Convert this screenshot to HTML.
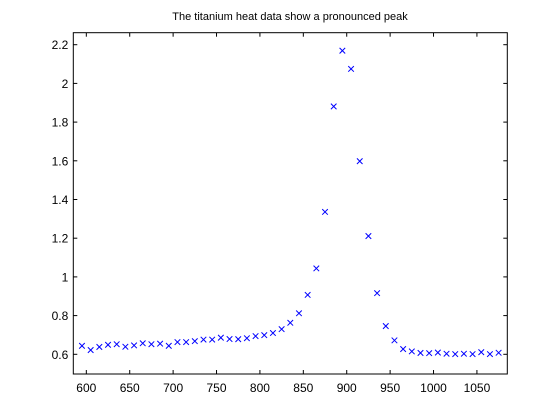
<!DOCTYPE html>
<html><head><meta charset="utf-8"><style>
html,body{margin:0;padding:0;background:#fff;}
svg{display:block;font-family:"Liberation Sans",Arial,sans-serif;}
</style></head><body>
<svg id="chart" width="560" height="420" viewBox="0 0 560 420" xmlns="http://www.w3.org/2000/svg">
<rect x="0" y="0" width="560" height="420" fill="#fff"/>
<text x="290" y="20" font-size="11" text-anchor="middle" fill="#000">The titanium heat data show a pronounced peak</text>
<g id="ticks"></g>
<g id="marks"></g>
<rect x="73.3" y="32.7" width="434" height="341.3" fill="none" stroke="#000" stroke-width="1"/>
</svg>
<script>
const temperatures = [595,605,615,625,635,645,655,665,675,685,695,705,715,725,735,745,755,765,775,785,795,805,815,825,835,845,855,865,875,885,895,905,915,925,935,945,955,965,975,985,995,1005,1015,1025,1035,1045,1055,1065,1075];
const heatValues = [0.644,0.622,0.638,0.649,0.652,0.639,0.646,0.657,0.652,0.655,0.644,0.663,0.663,0.668,0.676,0.676,0.686,0.679,0.678,0.683,0.694,0.699,0.710,0.730,0.763,0.812,0.907,1.044,1.336,1.881,2.169,2.075,1.598,1.211,0.916,0.746,0.672,0.627,0.615,0.607,0.606,0.609,0.603,0.601,0.603,0.601,0.611,0.601,0.608];
const xTicks = [600,650,700,750,800,850,900,950,1000,1050];
const yTicks = [0.6,0.8,1,1.2,1.4,1.6,1.8,2,2.2];
const yTickLabels = ["0.6","0.8","1","1.2","1.4","1.6","1.8","2","2.2"];

const L=73.3,R=507.3,T=32.7,B=374;
const xMin=585,xMax=1085;
function xs(v){return L+(v-xMin)/(xMax-xMin)*(R-L);}
function ys(v){return 354.3-(v-0.6)*193.5;}
const NS="http://www.w3.org/2000/svg";
const tg=document.getElementById('ticks'), mg=document.getElementById('marks');
function mk(tag,attrs,parent){const e=document.createElementNS(NS,tag);for(const k in attrs)e.setAttribute(k,attrs[k]);parent.appendChild(e);return e;}
xTicks.forEach(t=>{
  const x=xs(t);
  const l1=mk('line',{x1:x,x2:x,y1:B,y2:B-4,stroke:'#000'},tg);
  
  
  const l2=mk('line',{x1:x,x2:x,y1:T,y2:T+4,stroke:'#000'},tg);
  
  
  const tx=mk('text',{x:x,y:392,'font-size':12,'text-anchor':'middle',fill:'#000'},tg);
  tx.textContent=t;
  
  
});
yTicks.forEach((t,i)=>{
  const y=ys(t);
  const l1=mk('line',{x1:L,x2:L+4,y1:y,y2:y,stroke:'#000'},tg);
  
  
  const l2=mk('line',{x1:R,x2:R-4,y1:y,y2:y,stroke:'#000'},tg);
  
  
  const tx=mk('text',{x:L-5,y:y+4.5,'font-size':12,'text-anchor':'end',fill:'#000'},tg);
  tx.textContent=yTickLabels[i];
  
  
});
temperatures.forEach((t,i)=>{
  const x=xs(t), y=ys(heatValues[i]), s=2.8;
  const p=mk('path',{d:`M${x-s},${y-s}L${x+s},${y+s}M${x-s},${y+s}L${x+s},${y-s}`,stroke:'#0000ff','stroke-width':1,fill:'none'},mg);
  
  
});
</script>
</body></html>
